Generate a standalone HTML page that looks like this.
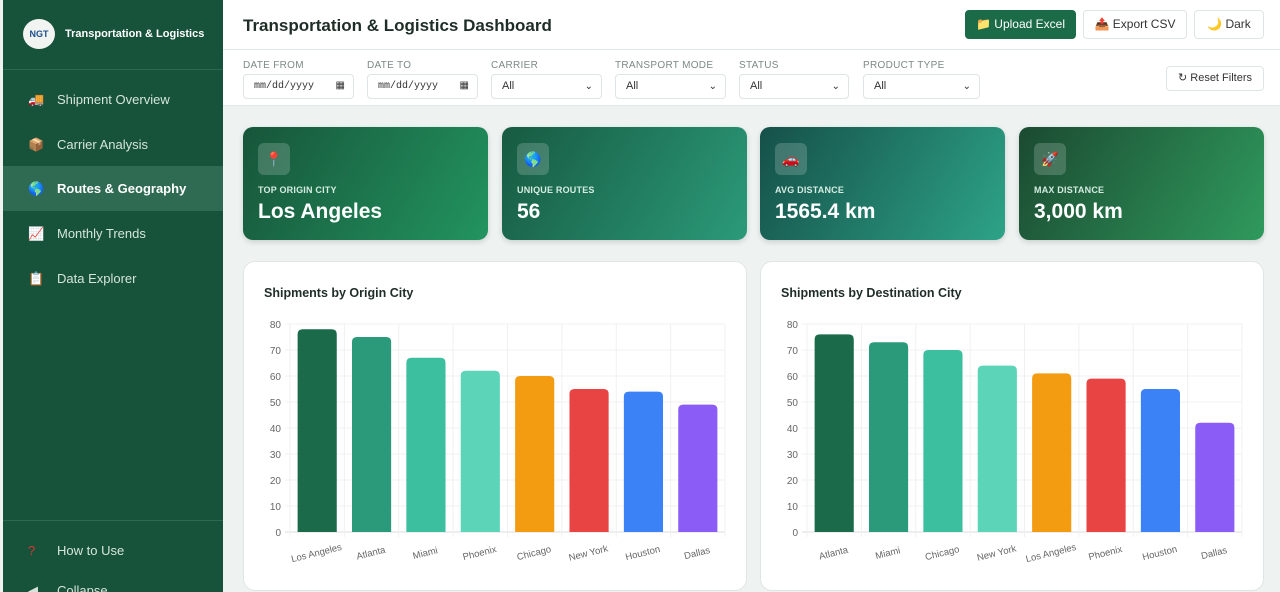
<!DOCTYPE html>
<html><head><meta charset="utf-8">
<style>
*{box-sizing:border-box;margin:0;padding:0}
html,body{width:1280px;height:592px;overflow:hidden}
body{background:#eef3f2;font-family:"Liberation Sans",sans-serif;position:relative}
.sb{position:absolute;left:3px;top:0;width:220px;height:592px;background:#17523a;color:#d7e8df}
.logo{position:absolute;left:20px;top:19px;width:32px;height:30px;border-radius:50%;background:#f2f4f2;color:#1d4f8a;font-size:9px;font-weight:bold;text-align:center;line-height:30px}
.brand{position:absolute;left:62px;top:28px;font-size:11px;font-weight:bold;color:#fff}
.sep{position:absolute;left:0;width:220px;height:1px;background:#2b6a4e}
.nav{position:absolute;left:0;width:220px;height:45px;font-size:13px;line-height:45px;padding-left:54px;color:#d5e5dc}
.nav.act{background:#2f6b52;color:#fff;font-weight:bold}
.nav i{position:absolute;left:25px;font-style:normal;font-size:13px}
.top{position:absolute;left:223px;top:0;width:1057px;height:50px;background:#fff;border-bottom:1px solid #e3e9e6}
.title{position:absolute;left:20px;top:16px;font-size:17px;font-weight:bold;color:#1f2d27}
.btn{position:absolute;top:10px;height:29px;border:1px solid #dfe5e2;border-radius:4px;background:#fff;font-size:12px;color:#333;line-height:27px;text-align:center}
.filt{position:absolute;left:223px;top:50px;width:1057px;height:56px;background:#fff;border-bottom:1px solid #e3e9e6}
.fl{position:absolute;top:10px;font-size:10px;color:#7c8a84;letter-spacing:.3px}
.fi{position:absolute;top:24px;height:25px;border:1px solid #dfe5e2;border-radius:4px;font-size:11px;color:#333;line-height:23px;padding-left:10px}
.fi b{position:absolute;right:8px;font-weight:normal;font-size:10px}
.kpi{position:absolute;top:127px;width:245px;height:113px;border-radius:10px;color:#fff;box-shadow:0 2px 6px rgba(0,0,0,.15)}
.kpi .ic{position:absolute;left:15px;top:16px;width:32px;height:32px;border-radius:6px;background:rgba(255,255,255,.18);text-align:center;line-height:32px;font-size:14px}
.kpi .lb{position:absolute;left:15px;top:58px;font-size:9px;font-weight:bold;color:#d5ece2;letter-spacing:.2px}
.kpi .v{position:absolute;left:15px;top:73px;font-size:21px;font-weight:bold}
.card{position:absolute;top:261px;width:504px;height:330px;background:#fff;border:1px solid #e0e6e3;border-radius:12px}
.card h3{position:absolute;left:20px;top:24px;font-size:12.5px;color:#1f2d27}
.card svg{position:absolute;left:0;top:0}
</style></head><body>
<div class="sb">
 <div class="logo">NGT</div>
 <div class="brand">Transportation &amp; Logistics</div>
 <div class="sep" style="top:69px"></div>
 <div class="nav" style="top:77px"><i>🚚</i>Shipment Overview</div>
 <div class="nav" style="top:122px"><i>📦</i>Carrier Analysis</div>
 <div class="nav act" style="top:166px"><i>🌎</i>Routes &amp; Geography</div>
 <div class="nav" style="top:211px"><i>📈</i>Monthly Trends</div>
 <div class="nav" style="top:256px"><i>📋</i>Data Explorer</div>
 <div class="sep" style="top:520px"></div>
 <div class="nav" style="top:528px"><i style="color:#d33">?</i>How to Use</div>
 <div class="nav" style="top:568px"><i>◀</i>Collapse</div>
</div>
<div class="top">
 <div class="title">Transportation &amp; Logistics Dashboard</div>
 <div class="btn" style="left:742px;width:111px;background:#1b6b48;border-color:#1b6b48;color:#fff">📁 Upload Excel</div>
 <div class="btn" style="left:860px;width:104px">📤 Export CSV</div>
 <div class="btn" style="left:971px;width:70px">🌙 Dark</div>
</div>
<div class="filt">
 <div class="fl" style="left:20px">DATE FROM</div><div class="fi" style="left:20px;width:111px;font-family:'Liberation Mono',monospace;font-size:10px">mm/dd/yyyy<b>▦</b></div>
 <div class="fl" style="left:144px">DATE TO</div><div class="fi" style="left:144px;width:111px;font-family:'Liberation Mono',monospace;font-size:10px">mm/dd/yyyy<b>▦</b></div>
 <div class="fl" style="left:268px">CARRIER</div><div class="fi" style="left:268px;width:111px">All<b>⌄</b></div>
 <div class="fl" style="left:392px">TRANSPORT MODE</div><div class="fi" style="left:392px;width:111px">All<b>⌄</b></div>
 <div class="fl" style="left:516px">STATUS</div><div class="fi" style="left:516px;width:110px">All<b>⌄</b></div>
 <div class="fl" style="left:640px">PRODUCT TYPE</div><div class="fi" style="left:640px;width:117px">All<b>⌄</b></div>
 <div class="btn" style="left:943px;top:16px;height:25px;line-height:23px;width:98px;font-size:11px">↻ Reset Filters</div>
</div>
<div class="kpi" style="left:243px;background:linear-gradient(120deg,#17553a,#22945f)"><div class="ic">📍</div><div class="lb">TOP ORIGIN CITY</div><div class="v">Los Angeles</div></div>
<div class="kpi" style="left:502px;background:linear-gradient(120deg,#175a42,#2b9a78)"><div class="ic">🌎</div><div class="lb">UNIQUE ROUTES</div><div class="v">56</div></div>
<div class="kpi" style="left:760px;background:linear-gradient(120deg,#155049,#2da387)"><div class="ic">🚗</div><div class="lb">AVG DISTANCE</div><div class="v">1565.4 km</div></div>
<div class="kpi" style="left:1019px;background:linear-gradient(120deg,#1b4a31,#2f9a5d)"><div class="ic">🚀</div><div class="lb">MAX DISTANCE</div><div class="v">3,000 km</div></div>
<div class="card" style="left:243px"><h3>Shipments by Origin City</h3><svg id="c1" width="504" height="330"></svg></div>
<div class="card" style="left:760px"><h3>Shipments by Destination City</h3><svg id="c2" width="504" height="330"></svg></div>
<script>
const originCities=["Los Angeles","Atlanta","Miami","Phoenix","Chicago","New York","Houston","Dallas"];
const originValues=[78,75,67,62,60,55,54,49];
const destCities=["Atlanta","Miami","Chicago","New York","Los Angeles","Phoenix","Houston","Dallas"];
const destValues=[76,73,70,64,61,59,55,42];
const yTicks=[0,10,20,30,40,50,60,70,80];
const colors=["#1b6b4b","#2a9a7a","#3bbf9f","#5cd4b8","#f39c12","#e84444","#3b82f6","#8b5cf6"];
const NS="http://www.w3.org/2000/svg";
function draw(id,cats,vals){
 const svg=document.getElementById(id);
 const x0=46,x1=481,y0=270,y1=62,max=80;
 const y=v=>y0-(v/max)*(y0-y1);
 const bw=(x1-x0)/cats.length;
 const x=i=>x0+i*bw;
 function el(t,a){const e=document.createElementNS(NS,t);for(const k in a)e.setAttribute(k,a[k]);svg.appendChild(e);return e;}
 yTicks.forEach(t=>{
  const l=el('line',{x1:x0-5,x2:x1,y1:y(t),y2:y(t),stroke:t==0?'#ddd':'#f0f0f0'});
  
  
  const tx=el('text',{x:x0-9,y:y(t)+4,'text-anchor':'end','font-size':10,fill:'#666','font-family':'Liberation Sans'});
  tx.textContent=t;
  
  
 });
 for(let i=0;i<=cats.length;i++){el('line',{x1:x(i),x2:x(i),y1:y1,y2:y0+5,stroke:'#f0f0f0'});}
 cats.forEach((c,i)=>{
  const w=bw*0.72,bx=x(i)+(bw-w)/2,top=y(vals[i]),r=5;
  const p=el('path',{d:`M${bx},${y0}V${top+r}Q${bx},${top} ${bx+r},${top}H${bx+w-r}Q${bx+w},${top} ${bx+w},${top+r}V${y0}Z`,fill:colors[i]});
  
  
  const cx=x(i)+bw/2,ly=y0+24;
  const t=el('text',{x:cx,y:ly,'text-anchor':'middle','font-size':9.5,fill:'#666','font-family':'Liberation Sans',transform:`rotate(-14 ${cx} ${ly})`});
  t.textContent=c;
  
  
 });
}
draw('c1',originCities,originValues);
draw('c2',destCities,destValues);
</script>
</body></html>
